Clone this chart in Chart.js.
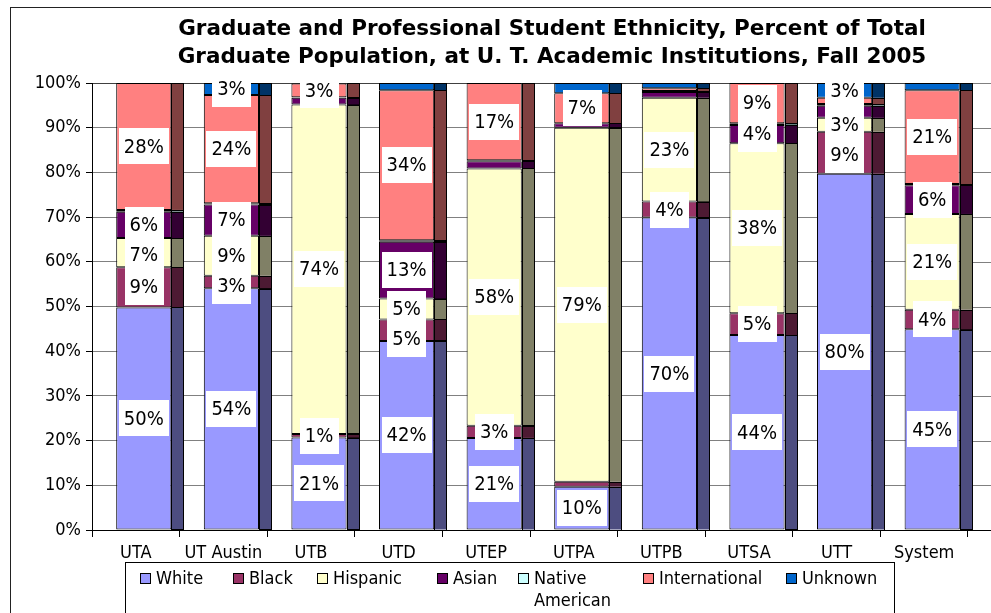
<!DOCTYPE html>
<html>
<head>
<meta charset="utf-8">
<script src="https://cdn.jsdelivr.net/npm/chart.js@4"></script>
<style>
  body { margin: 0; background: #fff; }
  #wrap { width: 991px; height: 613px; position: relative; }
</style>
</head>
<body>
<div id="wrap"><canvas id="ethnicChart"></canvas></div>
<script>
const categories = ['UTA', 'UT Austin', 'UTB', 'UTD', 'UTEP', 'UTPA', 'UTPB', 'UTSA', 'UTT', 'System'];

// percent of total graduate population, bottom to top
const white         = [49.8, 54.1, 20.7, 42.3, 20.6,  9.7, 69.9, 43.6, 79.7, 44.9];
const black         = [ 9.0,  2.8,  0.8,  4.8,  2.7,  1.1,  3.6,  4.9,  9.4,  4.4];
const hispanic      = [ 6.5,  8.9, 73.7,  4.7, 57.6, 79.2, 23.2, 38.0,  3.1, 21.4];
const asian         = [ 5.9,  7.0,  1.5, 12.7,  1.6,  1.0,  1.3,  4.1,  2.7,  6.4];
const nativeAm      = [ 0.4,  0.3,  0.1,  0.3,  0.2,  0.0,  0.2,  0.4,  0.4,  0.3];
const international = [28.4, 24.2,  3.1, 33.6, 17.3,  6.7,  0.6,  9.0,  1.4, 21.0];
const unknown       = [ 0.0,  2.7,  0.1,  1.6,  0.0,  2.3,  1.2,  0.0,  3.3,  1.6];

// which data labels appear on the picture (1 = shown)
const showWhite    = [1, 1, 1, 1, 1, 1, 1, 1, 1, 1];
const showBlack    = [1, 1, 1, 1, 1, 0, 1, 1, 1, 1];
const showHispanic = [1, 1, 1, 1, 1, 1, 1, 1, 1, 1];
const showAsian    = [1, 1, 0, 1, 0, 0, 0, 1, 0, 1];
const showNative   = [0, 0, 0, 0, 0, 0, 0, 0, 0, 0];
const showIntl     = [1, 1, 1, 1, 1, 1, 0, 1, 0, 1];
const showUnknown  = [0, 1, 0, 0, 0, 0, 0, 0, 1, 0];

const yTicks = [0, 10, 20, 30, 40, 50, 60, 70, 80, 90, 100];
const titleLines = [
  'Graduate and Professional Student Ethnicity, Percent of Total',
  'Graduate Population, at U. T. Academic Institutions, Fall 2005'
];

const FONT = "'DejaVu Sans Condensed', 'DejaVu Sans', sans-serif";
Chart.defaults.font.family = FONT;
Chart.defaults.color = '#000';

const series = [
  { label: 'White',         data: white,         show: showWhite,    color: '#9999FF', side: '#4D4D80' },
  { label: 'Black',         data: black,         show: showBlack,    color: '#993366', side: '#4D1A33' },
  { label: 'Hispanic',      data: hispanic,      show: showHispanic, color: '#FFFFCC', side: '#808066' },
  { label: 'Asian',         data: asian,         show: showAsian,    color: '#660066', side: '#330033' },
  { label: 'Native American', data: nativeAm,    show: showNative,   color: '#CCFFFF', side: '#668080' },
  { label: 'International', data: international, show: showIntl,     color: '#FF8080', side: '#804040' },
  { label: 'Unknown',       data: unknown,       show: showUnknown,  color: '#0066CC', side: '#003366' }
];

const SHIFT = 8;   // front face sits a little right of the category centre (3-D look)
const DEPTH = 12;  // width of the shaded side face
const BOX_H = 36;  // height of the white label boxes

const depthPlugin = {
  id: 'depth',
  beforeDatasetsDraw(chart) {
    const { ctx, chartArea, scales } = chart;
    // gridlines continue past the last category, as on the reference
    ctx.save();
    ctx.lineWidth = 1;
    yTicks.forEach(t => {
      const y = Math.round(scales.y.getPixelForValue(t)) + 0.5;
      ctx.strokeStyle = t === 0 ? '#000' : '#808080';
      ctx.beginPath();
      ctx.moveTo(chartArea.right, y);
      ctx.lineTo(chart.width, y);
      ctx.stroke();
    });
    ctx.restore();
    ctx.save();
    ctx.translate(SHIFT, 0);
  },
  afterDatasetsDraw(chart) {
    const { ctx } = chart;
    // side faces
    chart.data.datasets.forEach((ds, i) => {
      const meta = chart.getDatasetMeta(i);
      meta.data.forEach(el => {
        const p = el.getProps(['x', 'y', 'base', 'width'], true);
        const h = p.base - p.y;
        if (h <= 0) return;
        const x0 = Math.round(p.x + p.width / 2);
        ctx.fillStyle = series[i].side;
        ctx.fillRect(x0, p.y, DEPTH, h);
        ctx.strokeStyle = '#000';
        ctx.lineWidth = 1;
        ctx.strokeRect(x0 + 0.5, Math.round(p.y) + 0.5, DEPTH, Math.round(h));
      });
    });
    // data labels: collect per bar, top to bottom, nudge a label down when it hides the one above
    ctx.font = '20px ' + FONT;
    ctx.textAlign = 'center';
    ctx.textBaseline = 'middle';
    categories.forEach((c, j) => {
      const boxes = [];
      for (let i = series.length - 1; i >= 0; i--) {
        if (!series[i].show[j]) continue;
        const el = chart.getDatasetMeta(i).data[j];
        const p = el.getProps(['x', 'y', 'base'], true);
        boxes.push({ x: p.x, cy: (p.y + p.base) / 2, txt: Math.round(series[i].data[j]) + '%' });
      }
      for (let k = 1; k < boxes.length; k++) {
        const above = boxes[k - 1];
        const minCy = above.cy + BOX_H - 6;
        if (boxes[k].cy < minCy) boxes[k].cy = minCy;
      }
      boxes.forEach(b => {
        const w = ctx.measureText(b.txt).width + 10;
        ctx.fillStyle = '#fff';
        ctx.fillRect(Math.round(b.x - w / 2), Math.round(b.cy - BOX_H / 2), Math.round(w), BOX_H);
        ctx.fillStyle = '#000';
        ctx.fillText(b.txt, b.x, b.cy + 1);
      });
    });
    ctx.restore();
  },
  afterDraw(chart) {
    const { ctx } = chart;
    ctx.save();
    // outer frame
    ctx.strokeStyle = '#222';
    ctx.lineWidth = 1;
    ctx.strokeRect(10.5, 7.5, chart.width + 20, chart.height + 20);
    // title
    ctx.fillStyle = '#000';
    ctx.font = "bold 21.5px 'DejaVu Sans', sans-serif";
    ctx.textAlign = 'center';
    ctx.textBaseline = 'middle';
    ctx.fillText(titleLines[0], 552, 29);
    ctx.fillText(titleLines[1], 552, 57);
    // legend
    ctx.strokeStyle = '#000';
    ctx.strokeRect(125.5, 562.5, 769, 100);
    const legendX = [140, 233, 317, 437, 518, 643, 786];
    ctx.font = '18px ' + FONT;
    ctx.textAlign = 'left';
    series.forEach((s, i) => {
      const x = legendX[i];
      ctx.fillStyle = s.color;
      ctx.fillRect(x, 573, 11, 11);
      ctx.strokeStyle = '#000';
      ctx.strokeRect(x + 0.5, 573.5, 10, 10);
      ctx.fillStyle = '#000';
      const words = s.label === 'Native American' ? ['Native', 'American'] : [s.label];
      words.forEach((w, k) => ctx.fillText(w, x + 16, 579 + k * 22));
    });
    ctx.restore();
  }
};

new Chart(document.getElementById('ethnicChart'), {
  type: 'bar',
  data: {
    labels: categories,
    datasets: series.map(s => ({
      label: s.label,
      data: s.data,
      backgroundColor: s.color,
      borderColor: '#000',
      borderWidth: 1,
      borderSkipped: false,
      barPercentage: 0.63,
      categoryPercentage: 1
    }))
  },
  options: {
    responsive: true,
    maintainAspectRatio: false,
    animation: false,
    layout: { padding: { top: 83, right: 23, left: 0, bottom: 0 } },
    plugins: {
      legend: { display: false },
      title: { display: false },
      tooltip: { enabled: false }
    },
    scales: {
      x: {
        stacked: true,
        afterFit(scale) { scale.height = 83; },
        grid: { drawOnChartArea: false, drawTicks: true, tickLength: 7, tickColor: '#000', offset: true },
        border: { display: true, color: '#000' },
        ticks: { font: { size: 18 }, padding: 6, maxRotation: 0, autoSkip: false }
      },
      y: {
        stacked: true,
        min: 0,
        max: 100,
        afterFit(scale) { scale.width = 92; },
        afterBuildTicks(scale) { scale.ticks = yTicks.map(v => ({ value: v })); },
        grid: { color: ctx => ctx.tick && ctx.tick.value === 100 ? '#404040' : '#808080', tickColor: '#000', tickLength: 6 },
        border: { display: true, color: '#000' },
        ticks: { font: { size: 18 }, padding: 5, callback: v => v + '%' }
      }
    }
  },
  plugins: [depthPlugin]
});
</script>
</body>
</html>
